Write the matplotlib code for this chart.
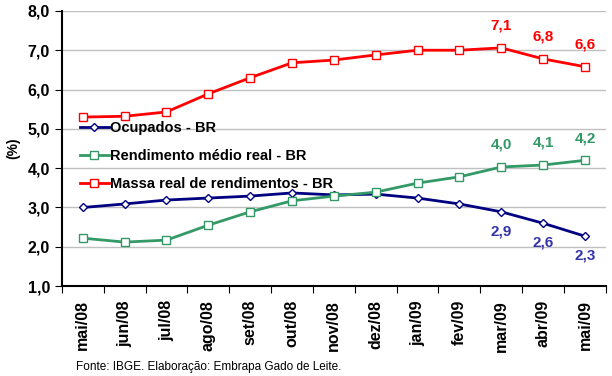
import matplotlib.pyplot as plt
import numpy as np

meses = ["mai/08", "jun/08", "jul/08", "ago/08", "set/08", "out/08", "nov/08",
         "dez/08", "jan/09", "fev/09", "mar/09", "abr/09", "mai/09"]
ocupados = [3.0, 3.09, 3.19, 3.24, 3.29, 3.37, 3.32, 3.34, 3.24, 3.09, 2.89, 2.6, 2.27]
rendimento = [2.22, 2.12, 2.17, 2.55, 2.89, 3.17, 3.29, 3.39, 3.62, 3.78, 4.03, 4.08, 4.2]
massa = [5.3, 5.32, 5.43, 5.89, 6.3, 6.68, 6.75, 6.88, 7.0, 7.0, 7.06, 6.78, 6.58]

plt.rcParams['font.family'] = ['Liberation Sans', 'DejaVu Sans']

fig = plt.figure(figsize=(6.12, 3.76), dpi=100)
ax = fig.add_axes([0.101, 0.239, 0.889, 0.732])
x = np.arange(len(meses))

navy = "#000080"
green = "#339966"
red = "#FF0000"

ax.plot(x, ocupados, color=navy, lw=2, marker="D", ms=4.5, mfc="white", mec=navy, mew=1,
        label="Ocupados - BR", zorder=3)
ax.plot(x, rendimento, color=green, lw=2, marker="s", ms=6, mfc="white", mec=green, mew=1,
        label="Rendimento médio real - BR", zorder=3)
ax.plot(x, massa, color=red, lw=2, marker="s", ms=6, mfc="white", mec=red, mew=1,
        label="Massa real de rendimentos - BR", zorder=3)

# rótulos dos três últimos meses
for i in range(10, 13):
    ax.annotate(f"{massa[i]:.1f}".replace(".", ","), (x[i], massa[i]), xytext=(0, 11),
                textcoords="offset points", ha="center", va="bottom",
                color=red, fontsize=11, fontweight="bold")
    ax.annotate(f"{rendimento[i]:.1f}".replace(".", ","), (x[i], rendimento[i]), xytext=(0, 11),
                textcoords="offset points", ha="center", va="bottom",
                color=green, fontsize=11, fontweight="bold")
    ax.annotate(f"{ocupados[i]:.1f}".replace(".", ","), (x[i], ocupados[i]), xytext=(0, -9),
                textcoords="offset points", ha="center", va="top",
                color="#3333AA", fontsize=11, fontweight="bold")

ax.set_xlim(-0.5, len(meses) - 0.5)
ax.set_ylim(1, 8)
yt = np.arange(1, 9)
ax.set_yticks(yt)
ax.set_yticklabels([f"{v:.1f}".replace(".", ",") for v in yt], fontsize=11.5, fontweight="bold")
ax.yaxis.grid(True, color="#C0C0C0", lw=1)
ax.set_axisbelow(True)

ax.set_xticks(np.arange(-0.5, len(meses), 1))
ax.set_xticklabels([])
ax.set_xticks(x, minor=True)
ax.set_xticklabels(meses, minor=True, rotation=90, fontsize=11.5, fontweight="bold")
ax.tick_params(axis="x", which="minor", length=0, pad=10)
ax.tick_params(axis="x", which="major", length=5, direction="out")
ax.tick_params(axis="y", length=5, direction="out")

for s in ["top", "right"]:
    ax.spines[s].set_visible(False)
ax.spines["left"].set_linewidth(1.5)
ax.spines["bottom"].set_linewidth(1.5)

ax.set_ylabel("(%)", fontsize=10, fontweight="bold", labelpad=5)

ax.legend(loc="upper left", bbox_to_anchor=(0.022, 0.62), frameon=False,
          prop={"size": 10.5, "weight": "bold"}, handlelength=2.0, handletextpad=0.1,
          labelspacing=0.95, borderaxespad=0)

fig.text(0.125, 0.015, "Fonte: IBGE. Elaboração: Embrapa Gado de Leite.", fontsize=8.5)

fig.savefig("out.png", dpi=100)
